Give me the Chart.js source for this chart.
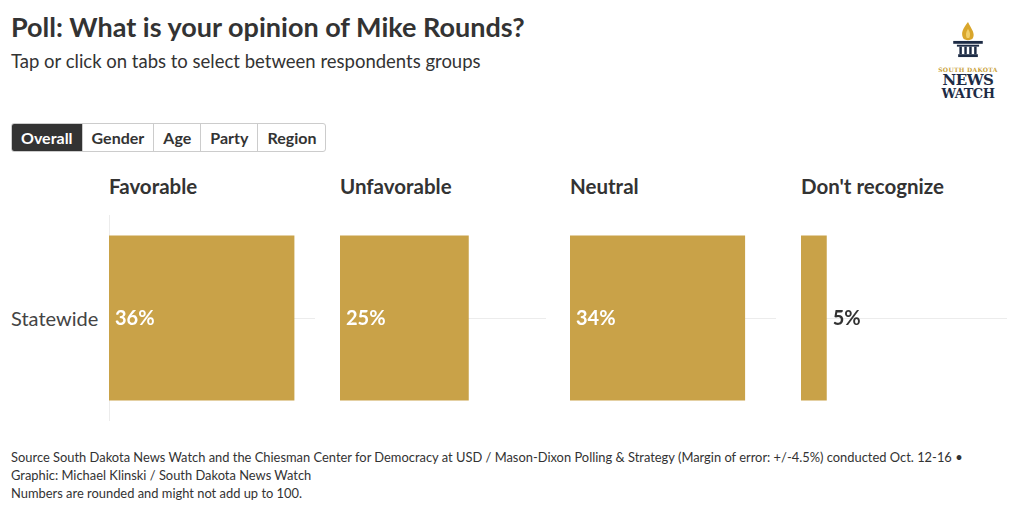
<!DOCTYPE html>
<html><head><meta charset="utf-8">
<script src="https://cdn.jsdelivr.net/npm/chart.js@4/dist/chart.umd.min.js"></script>
<style>
body{margin:0;background:#fff;font-family:Lato,"Open Sans",sans-serif;color:#333;width:1020px;height:512px;position:relative;overflow:hidden}
.abs{position:absolute;white-space:nowrap}
#title{left:11px;top:10px;font-size:27px;font-weight:700;color:#333}
#sub{left:11px;top:50px;font-size:18.5px;color:#333}
#tabs{left:11px;top:123px;display:flex;height:27px;border:1px solid #ccc;border-radius:3px;overflow:hidden}
#tabs div{font-size:16px;font-weight:700;padding:0 9px;line-height:27px;border-left:1px solid #ccc;color:#333}
#tabs div.on{background:#333;color:#fff;border-left:none}
.ptitle{font-size:20.5px;font-weight:700;color:#333;top:174px}
#rowlab{left:11px;top:306px;font-size:20px;color:#444}
#foot{left:11px;top:448px;font-size:12.9px;line-height:18px;color:#333}
canvas{position:absolute}
#logo{left:938px;top:22px;width:60px;text-align:center;font-family:"DejaVu Serif","Liberation Serif",serif;color:#1d2b45}
</style></head><body>
<div class="abs" id="title">Poll: What is your opinion of Mike Rounds?</div>
<div class="abs" id="sub">Tap or click on tabs to select between respondents groups</div>
<div class="abs" id="tabs"><div class="on">Overall</div><div>Gender</div><div>Age</div><div>Party</div><div>Region</div></div>
<div class="abs" id="logo">
<svg width="32" height="36" viewBox="0 0 26 38" preserveAspectRatio="none" style="display:block;margin:0 auto">
<path d="M13 0 C9 7 7 11 9 17 C10 20 16 20 17 17 C19 12 16 8 13 0 Z" fill="#d9a62b"/>
<path d="M13 7 C11 11 11 14 12 17 L14 17 C15 14 15 11 13 7 Z" fill="#f1cf6a"/>
<rect x="1" y="20" width="24" height="3" fill="#1d2b45"/>
<rect x="4" y="24" width="18" height="2" fill="#1d2b45"/>
<rect x="6" y="26" width="2" height="8" fill="#1d2b45"/><rect x="10" y="26" width="2" height="8" fill="#1d2b45"/>
<rect x="14" y="26" width="2" height="8" fill="#1d2b45"/><rect x="18" y="26" width="2" height="8" fill="#1d2b45"/>
<rect x="5" y="34" width="16" height="3" fill="#1d2b45"/>
</svg>
<div style="font-size:6px;color:#c9a13a;font-weight:700;letter-spacing:0.3px;margin-top:8px;line-height:7px">SOUTH DAKOTA</div>
<div style="font-size:15px;font-weight:700;line-height:14px;letter-spacing:-0.5px">NEWS</div>
<div style="font-size:13px;font-weight:700;line-height:13px;letter-spacing:-0.5px">WATCH</div>
</div>
<div class="abs" id="rowlab">Statewide</div>
<div class="abs" id="foot">Source South Dakota News Watch and the Chiesman Center for Democracy at USD / Mason-Dixon Polling &amp; Strategy (Margin of error: +/-4.5%) conducted Oct. 12-16 •<br>Graphic: Michael Klinski / South Dakota News Watch<br>Numbers are rounded and might not add up to 100.</div>
<script>
const categories = ["Favorable", "Unfavorable", "Neutral", "Don't recognize"];
const rowLabels = ["Statewide"];
const favorable = [36];
const unfavorable = [25];
const neutral = [34];
const dontRecognize = [5];
const seriesValues = [favorable, unfavorable, neutral, dontRecognize];
const axisMax = 40;

const panelLeft = [109, 340, 570, 801];
const panelW = 206, panelTop = 215, panelH = 206;
const barColor = '#c9a248';

const labelPlugin = {
  id: 'valLabels',
  afterDatasetsDraw(chart) {
    const ctx = chart.ctx;
    const meta = chart.getDatasetMeta(0);
    ctx.save();
    ctx.font = '700 20px Lato, "Open Sans", sans-serif';
    ctx.textBaseline = 'middle';
    meta.data.forEach((bar, i) => {
      const v = chart.data.datasets[0].data[i];
      const txt = v + '%';
      const w = ctx.measureText(txt).width;
      const barW = bar.x - bar.base;
      if (barW > w + 14) {
        ctx.fillStyle = '#fff';
        ctx.fillText(txt, bar.base + 6, bar.y + 1);
      } else {
        ctx.fillStyle = '#333';
        ctx.fillText(txt, bar.x + 6, bar.y + 1);
      }
    });
    ctx.restore();
  }
};

categories.forEach((cat, p) => {
  const t = document.createElement('div');
  t.className = 'abs ptitle';
  t.style.left = panelLeft[p] + 'px';
  t.textContent = cat;
  document.body.appendChild(t);
  const c = document.createElement('canvas');
  c.style.left = panelLeft[p] + 'px';
  c.style.top = panelTop + 'px';
  c.style.width = panelW + 'px';
  c.style.height = panelH + 'px';
  c.width = panelW; c.height = panelH;
  document.body.appendChild(c);
  new Chart(c, {
    type: 'bar',
    data: { labels: rowLabels, datasets: [{ data: seriesValues[p], backgroundColor: barColor, barPercentage: 0.8, categoryPercentage: 1 }] },
    options: {
      indexAxis: 'y', responsive: false, animation: false,
      layout: { padding: 0 },
      plugins: { legend: { display: false }, tooltip: { enabled: false } },
      scales: {
        x: { display: false, min: 0, max: axisMax },
        y: {
          display: true,
          ticks: { display: false },
          grid: { offset: false, color: '#ececec', drawTicks: false, lineWidth: 1 },
          border: { display: p === 0, color: '#ececec' },
          afterFit: s => { s.width = 0; }
        }
      }
    },
    plugins: [labelPlugin]
  });
});
</script>
</body></html>
